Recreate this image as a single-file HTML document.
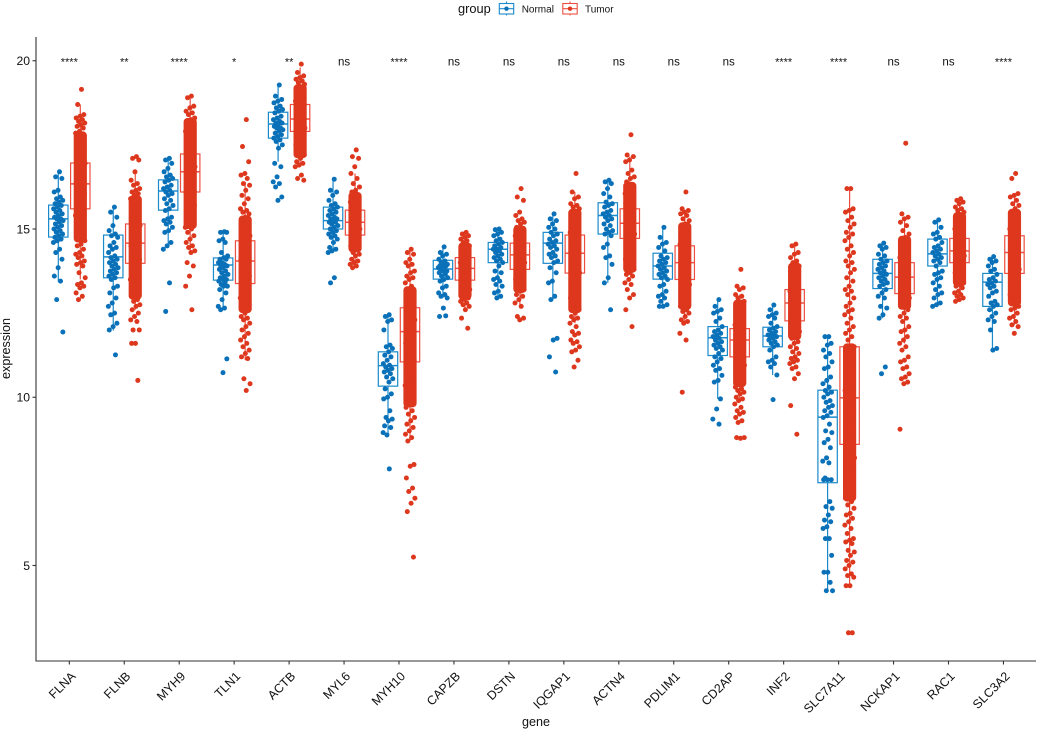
<!DOCTYPE html>
<html lang="en">
<head>
<meta charset="utf-8">
<title>Gene expression by group</title>
<style>
html,body{margin:0;padding:0;background:#fff}
svg{display:block}
text{font-family:"Liberation Sans",Arial,sans-serif;fill:#111}
</style>
</head>
<body>
<svg id="chart" xmlns="http://www.w3.org/2000/svg" width="1038" height="731" viewBox="0 0 1038 731"></svg>
<script>
const genes = ["FLNA","FLNB","MYH9","TLN1","ACTB","MYL6","MYH10","CAPZB","DSTN","IQGAP1","ACTN4","PDLIM1","CD2AP","INF2","SLC7A11","NCKAP1","RAC1","SLC3A2"];
const significance = ["****","**","****","*","**","ns","****","ns","ns","ns","ns","ns","ns","****","****","ns","ns","****"];
const yTicks = [5,10,15,20];
const groups = ["Normal","Tumor"];

const normalQ1 = [14.76,13.55,15.56,13.48,17.7,15,10.33,13.51,14,13.98,14.85,13.51,11.24,11.5,7.46,13.23,13.9,12.7];
const normalMedian = [15.3,14.17,16.13,13.93,18.12,15.25,10.94,13.81,14.4,14.58,15.4,13.9,11.77,11.82,9.41,13.68,14.26,13.42];
const normalQ3 = [15.71,14.82,16.46,14.14,18.47,15.65,11.35,14.07,14.6,14.9,15.78,14.28,12.1,12.08,10.21,14.1,14.7,13.68];
const normalWhiskerLow = [13.43,11.98,14.55,12.6,17,14.3,8.88,12.95,13,12.9,13.4,12.7,9.95,10.66,4.25,12.35,12.7,11.35];
const normalWhiskerHigh = [16.7,15.65,17.1,14.92,19.28,16.48,12.45,14.47,15,15.45,16.45,15.05,12.9,12.74,11.8,14.58,15.27,14.18];

const tumorQ1 = [15.6,13.98,16.1,13.38,17.9,14.82,11.05,13.48,13.8,13.69,14.72,13.5,11.2,12.27,8.6,13.08,14,13.68];
const tumorMedian = [16.34,14.58,16.7,14.05,18.27,15.2,11.95,13.83,14.23,14.28,15.17,14,11.7,12.8,9.98,13.57,14.35,14.3];
const tumorQ3 = [16.96,15.15,17.23,14.65,18.7,15.56,12.66,14.15,14.58,14.82,15.6,14.5,12.04,13.2,11.5,14,14.72,14.8];
const tumorWhiskerLow = [13.5,12.6,14.3,11.1,16.85,13.9,8.7,12.6,12.7,12.2,13.7,12.2,9.9,11,4.4,11.6,12.9,12.15];
const tumorWhiskerHigh = [18.7,16.66,18.9,16.4,19.8,16.65,14.4,14.9,15.27,16.1,17.15,15.56,13.05,14.55,16.2,15.35,15.9,16.05];

/* Span where the tumor points overplot into a solid mass */
const tumorDenseLow = [14.6,12.9,15,12.5,17.1,14.3,9.7,12.9,13.1,12.5,13.7,12.6,10.3,11.7,6.9,12.6,13.3,12.7];
const tumorDenseHigh = [17.9,16,18.3,15.4,19.3,16.1,13.3,14.6,15.1,15.6,16.4,15.2,12.9,14,11.6,14.8,15.5,15.6];

const normalPoints = [
[16.7,16.55,16.5,16.15,16.1,15.95,15.9,15.85,15.8,15.75,15.7,15.65,15.6,15.55,15.5,15.45,15.4,15.35,15.3,15.3,15.25,15.2,15.15,15.1,15.05,15,14.95,14.9,14.85,14.8,14.75,14.7,14.65,14.6,14.4,14.3,14.1,13.85,13.6,13.45,12.9,11.94],
[15.65,15.5,15.35,15.1,14.95,14.85,14.8,14.75,14.6,14.5,14.45,14.4,14.3,14.2,14.15,14.1,14.05,14,13.95,13.9,13.85,13.8,13.75,13.7,13.65,13.6,13.55,13.5,13.3,13.25,13.1,12.95,12.8,12.7,12.5,12.45,12.2,12.1,12,11.26],
[17.1,17.05,16.95,16.8,16.7,16.6,16.55,16.5,16.45,16.4,16.3,16.25,16.2,16.15,16.1,16.05,16,15.9,15.85,15.75,15.7,15.6,15.55,15.35,15.3,15.25,15.2,15.15,15.05,14.95,14.9,14.6,14.5,14.4,13.4,12.55],
[14.92,14.9,14.9,14.7,14.65,14.6,14.3,14.2,14.15,14.1,14.1,14,14,13.95,13.9,13.9,13.85,13.8,13.75,13.7,13.65,13.6,13.55,13.5,13.5,13.45,13.4,13.35,13.3,13.3,13.2,13.1,12.9,12.7,12.65,12.6,11.14,10.73],
[19.28,18.95,18.85,18.8,18.75,18.65,18.6,18.55,18.5,18.45,18.35,18.3,18.25,18.2,18.15,18.15,18.1,18.05,18,18,17.95,17.9,17.85,17.8,17.75,17.7,17.65,17.6,17.5,17.4,16.95,16.85,16.55,16.4,16.35,16.25,15.95,15.85],
[16.48,16.15,16.1,16,15.85,15.75,15.7,15.65,15.6,15.55,15.5,15.45,15.4,15.35,15.3,15.3,15.25,15.2,15.2,15.15,15.1,15.05,15,14.95,14.9,14.85,14.8,14.75,14.7,14.6,14.45,14.4,14.35,14.3,13.55,13.4],
[12.45,12.4,12.3,12.25,12,11.55,11.5,11.45,11.35,11.25,11.2,11.1,11,10.95,10.9,10.85,10.8,10.75,10.7,10.6,10.55,10.45,10.25,10.1,10,9.95,9.6,9.4,9.35,9.3,9.15,9.1,8.88,8.95,7.87],
[14.47,14.3,14.25,14.2,14.1,14.05,14,13.95,13.95,13.9,13.9,13.85,13.85,13.8,13.8,13.75,13.75,13.7,13.65,13.6,13.55,13.5,13.45,13.3,13.25,13.1,13.05,13,12.95,12.65,12.4,12.42],
[15,14.98,14.9,14.85,14.8,14.7,14.65,14.6,14.55,14.5,14.45,14.4,14.4,14.35,14.3,14.25,14.2,14.15,14.1,14.05,14,13.9,13.75,13.7,13.55,13.5,13.45,13.35,13.3,13.15,13.1,13,12.95],
[15.45,15.3,15.25,15.15,15.05,15,14.9,14.85,14.8,14.7,14.65,14.6,14.55,14.5,14.45,14.4,14.3,14.25,14.2,14.15,14.05,14,13.85,13.7,13.45,13.4,13,12.9,11.75,11.7,11.2,10.75],
[16.45,16.4,16.35,16.2,16.05,15.95,15.8,15.75,15.7,15.65,15.55,15.5,15.45,15.4,15.35,15.3,15.25,15.15,15.1,15,14.95,14.9,14.85,14.8,14.55,14.45,14.2,14.15,13.95,13.55,13.4,12.6],
[15.05,14.75,14.6,14.55,14.45,14.35,14.2,14.15,14.1,14.05,14,13.95,13.9,13.85,13.8,13.75,13.7,13.65,13.6,13.55,13.5,13.35,13.3,13.15,13.05,13,12.95,12.85,12.75,12.7,12.7],
[12.9,12.7,12.6,12.55,12.5,12.35,12.25,12.1,12,11.95,11.9,11.85,11.8,11.75,11.7,11.65,11.6,11.55,11.5,11.45,11.4,11.3,11.2,11.15,11.05,10.95,10.85,10.8,10.65,10.5,10.45,9.95,9.65,9.35,9.2],
[12.74,12.6,12.5,12.45,12.4,12.35,12.2,12.1,12.05,12,11.95,11.9,11.85,11.85,11.8,11.8,11.75,11.7,11.65,11.6,11.55,11.5,11.4,11.2,11.1,11.05,11,10.9,10.66,9.93],
[11.8,11.8,11.6,11.55,11.4,11.3,11.2,11.05,10.9,10.85,10.6,10.5,10.4,10.3,10.2,10.15,10.1,10,9.9,9.85,9.75,9.7,9.6,9.55,9.45,9.4,9.2,9,8.95,8.75,8.65,8.5,8.2,8.1,8.05,7.6,7.55,7.55,7.55,6.9,6.75,6.7,6.5,6.35,6.3,6.15,6.1,5.8,5.8,5.3,4.8,4.8,4.5,4.25,4.25],
[14.58,14.5,14.45,14.4,14.25,14.2,14.1,14.05,14,13.95,13.9,13.85,13.8,13.75,13.7,13.65,13.6,13.55,13.5,13.45,13.4,13.35,13.3,13.2,13.1,13,12.95,12.7,12.65,12.45,12.35,10.9,10.7],
[15.27,15.2,15.05,14.9,14.85,14.75,14.7,14.6,14.5,14.45,14.4,14.35,14.3,14.25,14.2,14.15,14.1,14.05,14,13.9,13.75,13.7,13.65,13.55,13.5,13.4,13.3,13.2,13.1,13.05,12.95,12.8,12.75,12.7],
[14.18,14.1,14.05,14,13.9,13.8,13.75,13.65,13.55,13.5,13.45,13.4,13.35,13.3,13.25,13.15,13.1,13,12.85,12.8,12.75,12.7,12.6,12.5,12.4,12.3,12.25,12,11.45,11.4]
];

const tumorPoints = [
[19.15,18.7,18.4,18.35,18.3,18.25,18.2,18.15,18.1,18.05,18,17.9,17.85,17.7,17.6,17.45,17.4,17.3,17.15,17.05,16.95,16.8,16.75,16.6,16.5,16.35,16.25,16.1,16.05,15.9,15.8,15.65,15.6,15.4,15.35,15.2,15.15,15,14.9,14.8,14.7,14.65,14.55,14.5,14.4,14.3,14.25,14.2,14.15,14.05,14,13.95,13.9,13.7,13.55,13.4,13.35,13.3,13.25,13.1,13,12.9],
[17.15,17.1,17.05,16.7,16.45,16.35,16.3,16.2,16.15,16.1,16.05,16,15.9,15.85,15.7,15.6,15.55,15.4,15.3,15.15,15.1,14.95,14.8,14.75,14.6,14.5,14.35,14.2,14.1,13.95,13.9,13.75,13.6,13.5,13.35,13.3,13.15,13.05,13,12.9,12.85,12.75,12.7,12.6,12.5,12.4,12.3,12.25,12,12,11.6,11.6,10.5],
[18.95,18.9,18.65,18.6,18.5,18.45,18.4,18.3,18.25,18.2,18.05,17.95,17.9,17.75,17.6,17.5,17.35,17.3,17.1,17,16.85,16.7,16.55,16.4,16.3,16.1,16,15.8,15.7,15.5,15.45,15.3,15.2,15.05,15,14.9,14.8,14.7,14.6,14.5,14.45,14.35,14.3,14,13.9,13.6,13.3,12.6],
[18.25,17.45,17,16.65,16.6,16.5,16.35,16.3,16.15,16,15.9,15.75,15.6,15.55,15.5,15.45,15.35,15.2,15.1,14.95,14.8,14.7,14.55,14.4,14.25,14.1,14,13.85,13.6,13.5,13.35,13.2,13.05,12.95,12.8,12.7,12.6,12.5,12.4,12.35,12.3,12.2,12.1,12,11.9,11.8,11.7,11.6,11.5,11.4,11.3,11.2,11.15,10.55,10.4,10.2],
[19.9,19.65,19.55,19.5,19.45,19.4,19.35,19.3,19.2,19.1,19,18.9,18.8,18.7,18.6,18.5,18.4,18.3,18.2,18.1,18,17.9,17.8,17.7,17.6,17.5,17.4,17.3,17.2,17.1,17,16.95,16.9,16.85,16.6,16.5,16.45],
[17.35,17.15,17.1,16.85,16.65,16.5,16.35,16.25,16.15,16.1,16,15.9,15.8,15.7,15.6,15.5,15.4,15.3,15.2,15.1,15,14.9,14.8,14.7,14.6,14.5,14.4,14.3,14.25,14.2,14.1,14.05,14,13.95,13.9,13.85],
[14.4,14.3,14.25,14.1,14,13.95,13.9,13.75,13.7,13.6,13.55,13.5,13.4,13.3,13.2,13.05,12.9,12.8,12.6,12.5,12.3,12.2,12,11.85,11.7,11.6,11.4,11.25,11.1,10.95,10.8,10.65,10.5,10.35,10.2,10.05,9.9,9.8,9.7,9.6,9.5,9.4,9.3,9.2,9.1,9,8.9,8.8,8.7,8,7.95,7.6,7.3,7.2,7,6.85,6.6,5.25],
[14.9,14.85,14.8,14.75,14.7,14.65,14.6,14.5,14.45,14.3,14.25,14.1,14,13.9,13.8,13.7,13.6,13.5,13.4,13.3,13.2,13.1,13,12.95,12.9,12.85,12.8,12.75,12.7,12.6,12.35,12.05],
[16.2,15.95,15.85,15.5,15.4,15.3,15.25,15.2,15.15,15.05,15,14.9,14.8,14.7,14.6,14.5,14.4,14.3,14.2,14.1,14,13.9,13.8,13.7,13.6,13.5,13.4,13.3,13.2,13.15,13.05,13,12.9,12.8,12.7,12.4,12.35,12.3],
[16.65,16.1,15.95,15.9,15.75,15.7,15.65,15.6,15.5,15.35,15.2,15.05,14.9,14.8,14.6,14.45,14.3,14.15,14,13.85,13.7,13.55,13.4,13.25,13.1,12.95,12.8,12.65,12.6,12.5,12.4,12.35,12.3,12.2,12.1,11.95,11.9,11.85,11.7,11.65,11.6,11.5,11.4,11.35,11.1,10.9],
[17.8,17.2,17.15,17.05,17,16.75,16.65,16.55,16.5,16.4,16.3,16.2,16.05,15.9,15.75,15.6,15.45,15.3,15.15,15,14.85,14.7,14.55,14.4,14.25,14.1,13.95,13.85,13.8,13.7,13.65,13.6,13.5,13.4,13.35,13.2,13.05,12.95,12.6,12.1],
[16.1,15.6,15.55,15.5,15.45,15.4,15.3,15.25,15.15,15,14.85,14.7,14.55,14.4,14.25,14.1,13.95,13.8,13.65,13.5,13.35,13.2,13.05,12.9,12.8,12.7,12.6,12.55,12.5,12.4,12.3,12.25,12.2,11.9,11.7,10.15],
[13.8,13.3,13.25,13.2,13.05,13,12.95,12.85,12.7,12.6,12.45,12.3,12.15,12,11.85,11.7,11.55,11.4,11.25,11.1,10.95,10.8,10.65,10.5,10.4,10.3,10.25,10.2,10.15,10.1,10,9.95,9.9,9.8,9.7,9.6,9.55,9.5,9.4,9.3,9.25,8.8,8.78,8.8],
[14.55,14.5,14.3,14.25,14.15,14.05,14,13.9,13.75,13.6,13.45,13.3,13.15,13,12.85,12.7,12.55,12.4,12.25,12.1,11.95,11.8,11.75,11.65,11.6,11.5,11.45,11.35,11.3,11.2,11.15,11.1,11.05,11,10.9,10.85,10.7,10.55,9.75,8.9],
[16.2,16.2,15.6,15.55,15.5,15.35,15.25,15.15,15.05,14.9,14.85,14.75,14.65,14.5,14.4,14.3,14.2,14.05,14,13.9,13.8,13.7,13.55,13.45,13.3,13.2,13.15,13.05,12.95,12.8,12.7,12.6,12.55,12.45,12.35,12.2,12.1,12,11.9,11.8,11.7,11.5,11.2,11,10.7,10.5,10.2,10,9.7,9.5,9.2,9,8.7,8.5,8.2,8,7.7,7.5,7.2,7,6.9,6.8,6.7,6.55,6.5,6.4,6.3,6.2,6.1,5.95,5.8,5.75,5.7,5.65,5.45,5.4,5.3,5.15,5.1,5,4.9,4.75,4.7,4.65,4.4,4.4,3,3],
[17.55,15.45,15.35,15.3,15.2,15.1,14.95,14.85,14.75,14.6,14.45,14.3,14.15,14,13.85,13.7,13.55,13.4,13.25,13.1,12.95,12.8,12.7,12.6,12.5,12.4,12.35,12.25,12.1,12,11.95,11.8,11.7,11.6,11.5,11.4,11.2,11.1,11.05,10.9,10.85,10.7,10.6,10.55,10.45,10.4,9.05],
[15.9,15.85,15.8,15.75,15.65,15.6,15.55,15.5,15.4,15.3,15.2,15.1,15,14.9,14.8,14.7,14.6,14.5,14.4,14.3,14.2,14.1,14,13.9,13.8,13.7,13.6,13.5,13.4,13.35,13.3,13.25,13.15,13.1,13.05,13,12.95,12.9,12.85],
[16.65,16.5,16.05,16,15.95,15.85,15.75,15.7,15.6,15.45,15.3,15.15,15,14.85,14.7,14.55,14.4,14.25,14.1,13.95,13.8,13.65,13.5,13.35,13.2,13.05,12.9,12.8,12.7,12.65,12.6,12.5,12.4,12.35,12.25,12.15,12.1,11.9]
];

/* Axis functions */
const xBase = 69.3, xStep = 54.95, groupOffset = 11, boxHalf = 9.7;
function xScale(i){ return xBase + xStep * i; }
function yScale(v){ return 565.5 - (v - 5) * 33.65; }
/* Index-based horizontal spread standing in for ggplot's position jitter */
function jitter(i){ return (((i + 1) * 0.618034) % 1 - 0.5) * 10; }

const NS = "http://www.w3.org/2000/svg";
const svg = document.getElementById("chart");
function mk(tag, parent, attrs, txt){
  const e = document.createElementNS(NS, tag);
  for (const k in attrs) e.setAttribute(k, attrs[k]);
  if (txt !== undefined) e.textContent = txt;
  parent.appendChild(e);
  return e;
}

const plotLeft = 36, plotTop = 37, plotRight = 1036, plotBottom = 661;
const colors = {
  Normal:{point:"#0A71B9", line:"#1A8ACB"},
  Tumor:{point:"#DD371D", line:"#EC4F41"}
};

function drawBox(parent, cx, q1, med, q3, lo, hi, col, name){
  const g = mk("g", parent, {});
  
  
  const s = {stroke:col, "stroke-width":1.2, fill:"none"};
  const w1 = mk("line", g, Object.assign({x1:cx,x2:cx,y1:yScale(q3),y2:yScale(hi)}, s));
  
  
  const w2 = mk("line", g, Object.assign({x1:cx,x2:cx,y1:yScale(q1),y2:yScale(lo)}, s));
  
  
  const r = mk("rect", g, Object.assign({x:cx-boxHalf,y:yScale(q3),width:boxHalf*2,height:yScale(q1)-yScale(q3)}, s));
  
  
  const m = mk("line", g, Object.assign({x1:cx-boxHalf,x2:cx+boxHalf,y1:yScale(med),y2:yScale(med)}, s, {"stroke-width":1.5}));
  
  
}

/* Series: boxes sit beneath the points, as in the reference */
const marks = mk("g", svg, {});



genes.forEach(function(gene, i){
  const key = gene.toLowerCase();
  const nx = xScale(i) - groupOffset, tx = xScale(i) + groupOffset;

  drawBox(marks, nx, normalQ1[i], normalMedian[i], normalQ3[i], normalWhiskerLow[i], normalWhiskerHigh[i], colors.Normal.line, key + '-normal-box');
  drawBox(marks, tx, tumorQ1[i], tumorMedian[i], tumorQ3[i], tumorWhiskerLow[i], tumorWhiskerHigh[i], colors.Tumor.line, key + '-tumor-box');

  normalPoints[i].forEach(function(v, j){
    const c = mk("circle", marks, {cx:nx + jitter(j), cy:yScale(v), r:2.5, fill:colors.Normal.point});
    
    
  });

  const band = mk("rect", marks, {x:tx-6.6, y:yScale(tumorDenseHigh[i]), width:13.2, height:yScale(tumorDenseLow[i])-yScale(tumorDenseHigh[i]), rx:4, fill:colors.Tumor.point});
  
  

  tumorPoints[i].forEach(function(v, j){
    const c = mk("circle", marks, {cx:tx + jitter(j), cy:yScale(v), r:2.5, fill:colors.Tumor.point});
    
    
  });

  const sig = mk("text", svg, {x:xScale(i), y:65.6, "text-anchor":"middle", "font-size":significance[i] === "ns" ? 11.5 : 11}, significance[i]);
  
  
});

/* Axes */
const axes = mk("g", svg, {stroke:"#333", "stroke-width":1.1, fill:"none"});


const yAxis = mk("line", axes, {x1:plotLeft, x2:plotLeft, y1:plotTop, y2:plotBottom+0.5});


const xAxis = mk("line", axes, {x1:plotLeft-0.5, x2:plotRight, y1:plotBottom, y2:plotBottom});



yTicks.forEach(function(t){
  const tk = mk("line", axes, {x1:plotLeft-3.5, x2:plotLeft, y1:yScale(t), y2:yScale(t)});
  
  
  const lb = mk("text", svg, {x:30, y:yScale(t)+4.4, "text-anchor":"end", "font-size":12.2}, String(t));
  
  
});

genes.forEach(function(gene, i){
  const x = xScale(i);
  const tk = mk("line", axes, {x1:x, x2:x, y1:plotBottom, y2:plotBottom+3.5});
  
  
  const lb = mk("text", svg, {x:x+7, y:677, "text-anchor":"end", "font-size":12.4, transform:"rotate(-45 "+(x+7)+" 677)"}, gene);
  
  
});

const yTitle = mk("text", svg, {x:10, y:348.5, "text-anchor":"middle", "font-size":12.6, transform:"rotate(-90 10 348.5)"}, "expression");


const xTitle = mk("text", svg, {x:536, y:726, "text-anchor":"middle", "font-size":12.6}, "gene");



/* Legend */
const legend = mk("g", svg, {});


const legendTitle = mk("text", legend, {x:458, y:13, "font-size":12.8}, "group");



const legendKeyX = [506.5, 570];
const legendLabelX = [521.7, 585];
groups.forEach(function(name, i){
  const col = colors[name];
  const key = mk("g", legend, {});
  
  
  const cx = legendKeyX[i];
  mk("line", key, {x1:cx, x2:cx, y1:1.5, y2:15.5, stroke:col.line, "stroke-width":1.1});
  mk("rect", key, {x:cx-7.2, y:3.5, width:14.4, height:10.5, fill:"#fff", stroke:col.line, "stroke-width":1.1});
  mk("line", key, {x1:cx-7.2, x2:cx+7.2, y1:8.7, y2:8.7, stroke:col.line, "stroke-width":1.1});
  mk("circle", key, {cx:cx, cy:8.7, r:2.2, fill:col.point});
  const lb = mk("text", legend, {x:legendLabelX[i], y:12.7, "font-size":10}, name);
  
  
});
</script>
</body>
</html>
